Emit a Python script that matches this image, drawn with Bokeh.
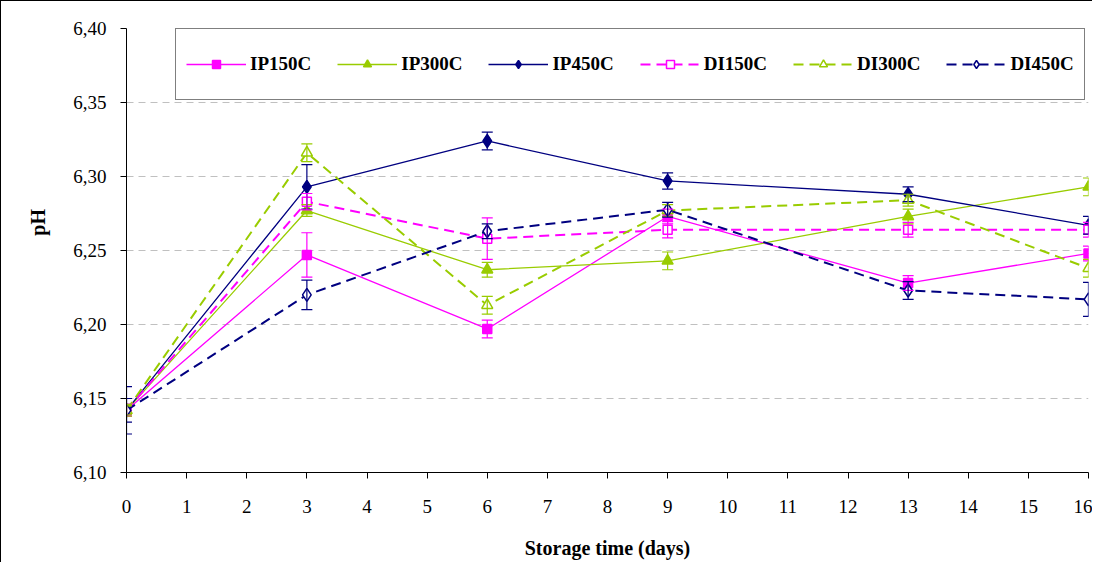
from bokeh.plotting import figure
from bokeh.models import (ColumnDataSource, Whisker, TeeHead, Legend, LegendItem,
                          FixedTicker, Label)
from bokeh.embed import file_html
from bokeh.resources import INLINE

# ---------------- data ----------------
days = [0, 3, 6, 9, 13, 16]
series_names = ["IP150C", "IP300C", "IP450C", "DI150C", "DI300C", "DI450C"]

IP150C = [6.142, 6.247, 6.197, 6.273, 6.228, 6.248]
IP150C_err = [0.004, 0.015, 0.006, 0.005, 0.005, 0.005]
IP300C = [6.142, 6.277, 6.237, 6.243, 6.273, 6.293]
IP300C_err = [0.003, 0.004, 0.005, 0.006, 0.005, 0.006]
IP450C = [6.142, 6.293, 6.324, 6.297, 6.288, 6.267]
IP450C_err = [0.008, 0.015, 0.006, 0.0055, 0.005, 0.006]
DI150C = [6.142, 6.283, 6.258, 6.264, 6.264, 6.264]
DI150C_err = [0.004, 0.0055, 0.014, 0.0055, 0.005, 0.005]
DI300C = [6.142, 6.316, 6.213, 6.277, 6.284, 6.238]
DI300C_err = [0.004, 0.006, 0.006, 0.004, 0.004, 0.006]
DI450C = [6.142, 6.220, 6.263, 6.2775, 6.223, 6.217]
DI450C_err = [0.016, 0.010, 0.005, 0.005, 0.006, 0.0115]

x_ticks = list(range(0, 17))
y_ticks = [6.10, 6.15, 6.20, 6.25, 6.30, 6.35, 6.40]
y_tick_labels = ["6,10", "6,15", "6,20", "6,25", "6,30", "6,35", "6,40"]

values = [IP150C, IP300C, IP450C, DI150C, DI300C, DI450C]
errors = [IP150C_err, IP300C_err, IP450C_err, DI150C_err, DI300C_err, DI450C_err]

# ---------------- styles ----------------
MAG = "#FF00FF"
YG = "#99CC00"
NAVY = "#000080"
styles = [
    dict(color=MAG, marker="square", size=9, fill=MAG, dash="solid", lw=1.3),
    dict(color=YG, marker="triangle", size=11, fill=YG, dash="solid", lw=1.3),
    dict(color=NAVY, marker="diamond", size=13, fill=NAVY, dash="solid", lw=1.3),
    dict(color=MAG, marker="square", size=9, fill="white", dash="10 6", lw=2),
    dict(color=YG, marker="triangle", size=11, fill="white", dash="10 6", lw=2),
    dict(color=NAVY, marker="diamond", size=13, fill="white", dash="10 6", lw=2),
]

FONT = "Liberation Serif"

p = figure(width=1092, height=562, output_backend="svg", toolbar_location=None,
           x_range=(0, 16), y_range=(6.10, 6.40),
           min_border_left=125, min_border_top=27, min_border_right=5,
           min_border_bottom=91)
p.styles = {"border-left": "1px solid black", "border-top": "1px solid black"}
p.background_fill_color = "white"
p.border_fill_color = "white"
p.outline_line_color = None

# grid
p.xgrid.grid_line_color = None
p.ygrid.grid_line_color = "#C0C0C0"
p.ygrid.grid_line_dash = "7 5"
p.ygrid.grid_line_width = 1

# axes
p.xaxis.ticker = FixedTicker(ticks=x_ticks)
p.yaxis.ticker = FixedTicker(ticks=y_ticks)
p.yaxis.major_label_overrides = {t: l for t, l in zip(y_ticks, y_tick_labels)}
for ax in (p.xaxis[0], p.yaxis[0]):
    ax.axis_line_color = "black"
    ax.axis_line_width = 1
    ax.major_tick_line_color = "black"
    ax.major_tick_out = 6
    ax.major_tick_in = 0
    ax.minor_tick_line_color = None
    ax.major_label_text_font = FONT
    ax.major_label_text_font_size = "19px"
    ax.major_label_text_color = "black"
p.xaxis.major_label_standoff = 21
p.yaxis.major_label_standoff = 14

p.xaxis.axis_label = "Storage time (days)"
p.xaxis.axis_label_text_font = FONT
p.xaxis.axis_label_text_font_style = "bold"
p.xaxis.axis_label_text_font_size = "20px"
p.xaxis.axis_label_text_color = "black"
p.xaxis.axis_label_standoff = 21

# y axis title, placed in the left panel (not clipped to the frame)
ylab = Label(x=-1.464, y=6.269, text="pH", angle=1.5708,
             text_font=FONT, text_font_style="bold", text_font_size="20px",
             text_align="center", text_baseline="middle", text_color="black")
p.add_layout(ylab, "left")

items = []
for name, vals, errs, st in zip(series_names, values, errors, styles):
    src = ColumnDataSource(dict(
        x=days, y=vals,
        upper=[v + e for v, e in zip(vals, errs)],
        lower=[v - e for v, e in zip(vals, errs)],
    ))
    lr = p.line("x", "y", source=src, line_color=st["color"], line_width=st["lw"],
                line_dash=st["dash"])
    wh = Whisker(base="x", upper="upper", lower="lower", source=src,
                 line_color=st["color"], line_width=1.2, level="glyph",
                 upper_head=TeeHead(size=11, line_color=st["color"], line_width=1.2),
                 lower_head=TeeHead(size=11, line_color=st["color"], line_width=1.2))
    p.add_layout(wh)
    sr = p.scatter("x", "y", source=src, marker=st["marker"], size=st["size"],
                   fill_color=st["fill"], line_color=st["color"], line_width=1.5)
    items.append(LegendItem(label=name, renderers=[lr, sr]))

legend = Legend(items=items, orientation="horizontal", location=(49, 372),
                padding=10, spacing=26, glyph_width=60, glyph_height=20,
                label_height=50, label_standoff=4,
                label_text_font=FONT, label_text_font_style="bold",
                label_text_font_size="19px", label_text_color="black",
                border_line_color="black", border_line_width=1,
                background_fill_color="white", background_fill_alpha=1.0,
                margin=0)
p.add_layout(legend, "center")

open("out.html", "w").write(file_html(p, INLINE))
